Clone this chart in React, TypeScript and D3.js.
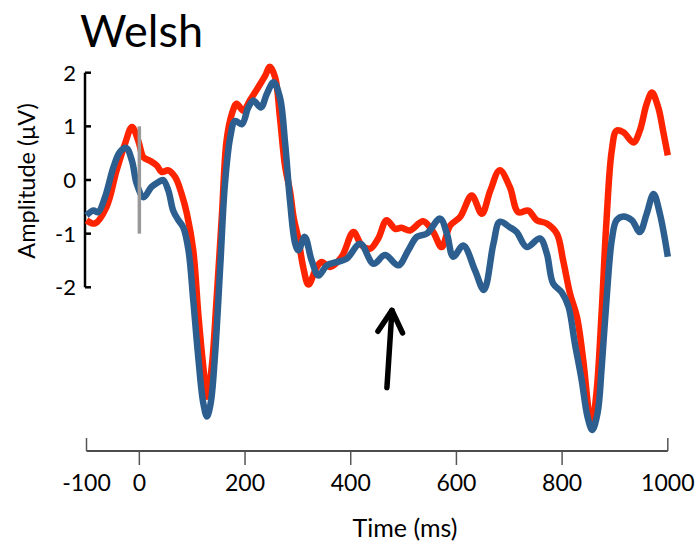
import React from "react";
import * as d3 from "d3";

const redTimes = [-100,-84,-62,-43,-27,-14,-2,8,20,33,42,55,68,80,90,102,112,121,128,137,146,156,165,175,184,197,209,225,238,247,257,266,276,285,292,301,310,320,336,345,361,383,405,421,437,452,468,484,496,512,537,556,572,588,607,629,648,664,682,701,717,736,752,771,790,802,815,828,840,850,856,865,875,884,894,903,916,935,947,960,970,982,991,1000];
const redValues = [-0.75,-0.81,-0.5,0.18,0.68,0.99,0.73,0.42,0.36,0.27,0.15,0.18,0.05,-0.26,-0.63,-1.31,-2.55,-3.48,-4.04,-3.48,-2.24,-0.69,0.73,1.23,1.42,1.29,1.48,1.73,1.94,2.11,1.91,1.17,0.24,-0.2,-0.7,-1.1,-1.62,-1.95,-1.62,-1.53,-1.62,-1.43,-0.97,-1.22,-1.28,-1.09,-0.75,-0.91,-0.89,-0.94,-0.77,-0.97,-1.25,-0.85,-0.69,-0.29,-0.63,-0.2,0.18,-0.13,-0.6,-0.57,-0.75,-0.81,-1.0,-1.5,-2.12,-2.55,-3.36,-4.28,-4.59,-3.97,-2.43,-0.75,0.55,0.92,0.89,0.7,0.92,1.42,1.63,1.35,0.92,0.46];

const blueTimes = [-100,-87,-78,-65,-49,-37,-25,-14,-5,8,23,36,45,55,64,74,83,93,102,112,121,128,135,143,153,162,172,181,194,206,216,230,241,254,266,276,285,295,301,313,326,339,355,373,392,418,443,465,490,509,525,544,569,582,594,613,635,652,670,682,701,714,733,758,771,783,799,812,824,837,848,857,867,875,884,894,903,916,932,947,960,973,985,1000];
const blueValues = [-0.66,-0.57,-0.6,-0.32,0.24,0.52,0.6,0.36,-0.07,-0.32,-0.13,-0.04,0.0,-0.2,-0.57,-0.75,-0.88,-1.31,-2.24,-3.36,-4.16,-4.41,-4.16,-3.29,-1.62,-0.07,0.8,1.1,1.04,1.35,1.48,1.35,1.6,1.82,1.54,0.67,-0.38,-1.19,-1.31,-1.06,-1.5,-1.78,-1.59,-1.53,-1.47,-1.19,-1.56,-1.4,-1.59,-1.31,-1.06,-1.0,-0.72,-1.0,-1.43,-1.22,-1.68,-2.05,-1.19,-0.78,-0.88,-0.97,-1.25,-1.09,-1.37,-1.93,-2.09,-2.36,-3.04,-3.73,-4.41,-4.66,-4.35,-3.48,-2.24,-1.12,-0.75,-0.68,-0.75,-0.97,-0.63,-0.26,-0.63,-1.43];

const yTicks = [2, 1, 0, -1, -2];
const xTicks = [0, 200, 400, 600, 800];
const xTickLabels = [-100, 0, 200, 400, 600, 800, 1000];
const onsetMarker = { t: 0, from: 1, to: -1 };
const arrowTail = { t: 468.5, v: -3.87 };
const arrowTip = { t: 478, v: -2.43 };
const arrowWingL = { t: 451.5, v: -2.82 };
const arrowWingR = { t: 498, v: -2.85 };

const FONT = "Lato, 'Open Sans', sans-serif";

export default function App() {
  const x = d3.scaleLinear().domain([-100, 1000]).range([86.5, 667.8]);
  const y = d3.scaleLinear().domain([-2, 2]).range([287.3, 72.7]);
  const line = d3
    .line<[number, number]>()
    .x((d) => x(d[0]))
    .y((d) => y(d[1]))
    .curve(d3.curveCatmullRom.alpha(0.5));
  const red = line(redTimes.map((t, i) => [t, redValues[i]]));
  const blue = line(blueTimes.map((t, i) => [t, blueValues[i]]));
  const axisY = 451;
  const yAxisX = 85;

  return (
    <svg
      width={699}
      height={544}
      style={{ position: "absolute", left: 0, top: 0, background: "#fff" }}
      fontFamily={FONT}
    >
      <text x={80} y={47} fontSize={45} fill="#000">Welsh</text>

      {/* Y axis */}
      <line x1={yAxisX} x2={yAxisX} y1={y(2)} y2={y(-2)} stroke="#000" strokeWidth={2.5} />
      {yTicks.map((v) => (
        <g key={v}>
          <line x1={yAxisX} x2={yAxisX + 6} y1={y(v)} y2={y(v)} stroke="#000" strokeWidth={2.5} />
          <text x={76} y={y(v)} dy="0.36em" textAnchor="end" fontSize={22} fill="#000">
            {v}
          </text>
        </g>
      ))}
      <text
        transform={`translate(26,${(y(2) + y(-2)) / 2 + 1}) rotate(-90)`}
        textAnchor="middle"
        dominantBaseline="central"
        fontSize={23.5}
        fill="#000"
      >
        Amplitude (μV)
      </text>

      {/* X axis */}
      <line x1={x(-100)} x2={x(1000)} y1={axisY} y2={axisY} stroke="#111" strokeWidth={1.5} />
      <line x1={x(-100)} x2={x(-100)} y1={axisY - 13} y2={axisY} stroke="#555" strokeWidth={1.5} />
      <line x1={x(1000)} x2={x(1000)} y1={axisY - 13} y2={axisY} stroke="#555" strokeWidth={1.5} />
      {xTicks.map((t) => (
        <line key={t} x1={x(t)} x2={x(t)} y1={axisY} y2={axisY + 14} stroke="#555" strokeWidth={1.5} />
      ))}
      {xTickLabels.map((t) => (
        <text key={t} x={x(t)} y={491} textAnchor="middle" fontSize={23} fill="#000">
          {t}
        </text>
      ))}
      <text x={405} y={537} textAnchor="middle" fontSize={25} fill="#000">Time (ms)</text>

      {/* Waveforms */}
      <path d={red || ""} fill="none" stroke="#ff2400" strokeWidth={6.5} strokeLinejoin="round" />
      <path d={blue || ""} fill="none" stroke="#2c5f8f" strokeWidth={6.5} strokeLinejoin="round" />

      {/* onset marker */}
      <line
        x1={x(onsetMarker.t)}
        x2={x(onsetMarker.t)}
        y1={y(onsetMarker.from)}
        y2={y(onsetMarker.to)}
        stroke="#999"
        strokeWidth={3.5}
      />

      {/* arrow annotation */}
      <g stroke="#000" strokeWidth={5.5} fill="none" strokeLinecap="round" strokeLinejoin="round">
        <line x1={x(arrowTail.t)} y1={y(arrowTail.v)} x2={x(arrowTip.t)} y2={y(arrowTip.v)} />
        <polyline
          points={`${x(arrowWingL.t)},${y(arrowWingL.v)} ${x(arrowTip.t)},${y(arrowTip.v)} ${x(arrowWingR.t)},${y(arrowWingR.v)}`}
        />
      </g>
    </svg>
  );
}
